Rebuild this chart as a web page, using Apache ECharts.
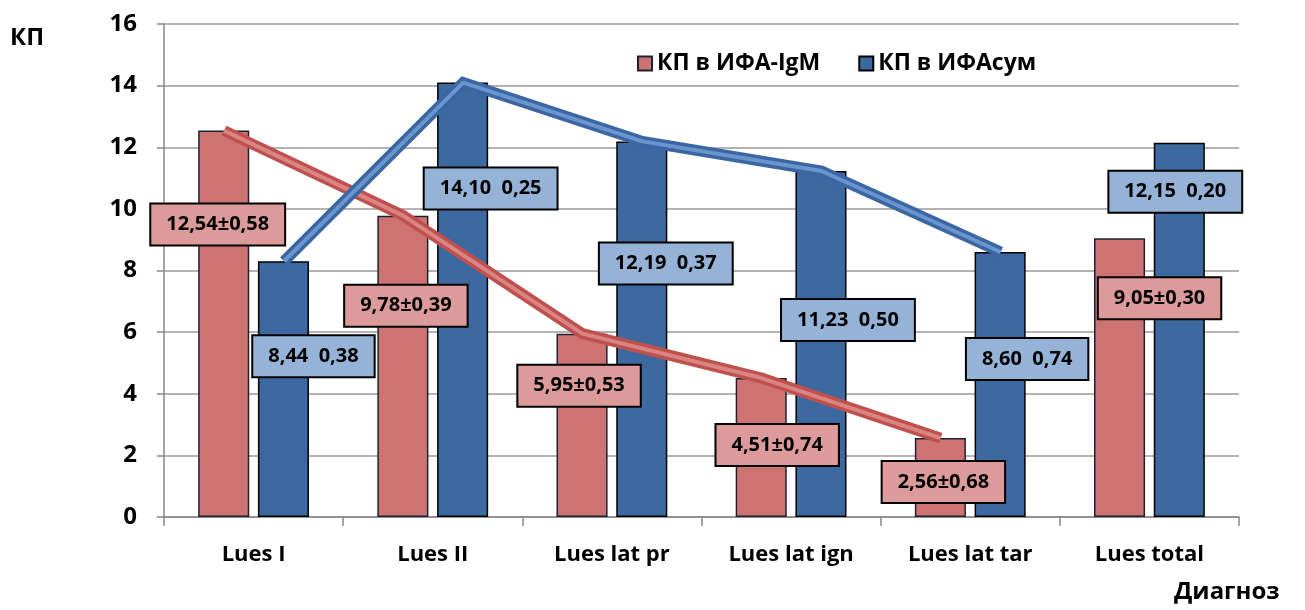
<!DOCTYPE html>
<html>
<head>
<meta charset="utf-8">
<script src="https://cdn.jsdelivr.net/npm/echarts@6.0.0/dist/echarts.min.js"></script>
<style>
html, body { margin: 0; padding: 0; background: #fff; }
#main { width: 1305px; height: 610px; }
</style>
</head>
<body>
<div id="main"></div>
<script>
var categories = ['Lues I', 'Lues II', 'Lues lat pr', 'Lues lat ign', 'Lues lat tar', 'Lues total'];
var igmValues = [12.54, 9.78, 5.95, 4.51, 2.56, 9.05];
var sumValues = [8.3, 14.1, 12.19, 11.23, 8.6, 12.15];
var igmLabels = ['12,54±0,58', '9,78±0,39', '5,95±0,53', '4,51±0,74', '2,56±0,68', '9,05±0,30'];
var sumLabels = ['8,44  0,38', '14,10  0,25', '12,19  0,37', '11,23  0,50', '8,60  0,74', '12,15  0,20'];
var lineCount = 5;	// trend lines only over the first five diagnoses

// hand placed label boxes, shift from bar top (px)
var igmLabelShift = [[-6, 114], [3, 110], [-3, 72], [16, 87], [3, 64], [40, 80]];
var sumLabelShift = [[30, 115], [28, 126], [24, 142], [27, 169], [27, 127], [-4, 69]];

var FONT = '"Open Sans", "Noto Sans", sans-serif';
var igmName = 'КП в ИФА-IgM';
var sumName = 'КП в ИФАсум';
// bar centres inside a category (fraction of band)
var igmPos = 0.335;
var sumPos = 0.67;

var myChart = echarts.init(document.getElementById('main'));

function boxLabel(texts, bg) {
	return {
		show: true,
		position: 'top',
		distance: 0,
		formatter: function (p) { return texts[p.dataIndex]; },
		backgroundColor: bg,
		borderColor: '#000',
		borderWidth: 2,
		padding: [9, 15],
		lineHeight: 22,
		color: '#000',
		fontFamily: FONT,
		fontWeight: 'bold',
		fontSize: 20
	};
}

function linePoints(values, pos) {
	var pts = [];
	for (var i = 0; i < lineCount; ++i)
		pts.push([i + pos, values[i]]);
	return pts;
}

var option = {
	animation: false,
	backgroundColor: '#fff',
	grid: { left: 164, right: 66, top: 24, bottom: 93 },
	legend: {
		data: [igmName, sumName],
		left: 632,
		top: 47,
		icon: 'rect',
		itemWidth: 14,
		itemHeight: 14,
		itemGap: 38,
		textStyle: { color: '#000', fontFamily: FONT, fontWeight: 'bold', fontSize: 23 }
	},
	graphic: [
		{ type: 'text', left: 10, top: 26, style: { text: 'КП', fill: '#000', font: 'bold 24px ' + FONT } },
		{ type: 'text', left: 1174, top: 580, style: { text: 'Диагноз', fill: '#000', font: 'bold 24px ' + FONT } }
	],
	xAxis: [
		{
			type: 'category',
			data: categories,
			axisLine: { lineStyle: { color: '#868686', width: 1.5 } },
			axisTick: { show: true, length: 9, lineStyle: { color: '#868686', width: 1.5 } },
			axisLabel: { color: '#000', fontFamily: FONT, fontWeight: 'bold', fontSize: 22, margin: 27 }
		},
		{ type: 'value', min: 0, max: categories.length, show: false }
	],
	yAxis: {
		type: 'value',
		min: 0,
		max: 16,
		interval: 2,
		axisLine: { show: true, lineStyle: { color: '#868686', width: 1.5 } },
		axisTick: { show: true, length: 7, lineStyle: { color: '#868686', width: 1.5 } },
		splitLine: { lineStyle: { color: '#9a9a9a', width: 1.5 } },
		axisLabel: { color: '#000', fontFamily: FONT, fontWeight: 'bold', fontSize: 24, margin: 27 }
	},
	series: [
		{
			name: igmName,
			type: 'bar',
			z: 2,
			barWidth: '28.5%',
			barGap: '17%',
			itemStyle: { color: '#cd7472', borderColor: '#1c2233', borderWidth: 1.5 },
			label: boxLabel(igmLabels, '#dc9b9a'),
			data: igmValues.map(function (v, i) { return { value: v, label: { offset: igmLabelShift[i] } }; })
		},
		{
			name: sumName,
			type: 'bar',
			z: 2,
			barWidth: '28.5%',
			barGap: '17%',
			itemStyle: { color: '#3d69a1', borderColor: '#000', borderWidth: 1.5 },
			label: boxLabel(sumLabels, '#95b3d7'),
			data: sumValues.map(function (v, i) { return { value: v, label: { offset: sumLabelShift[i] } }; })
		},
		{
			name: 'igmLine', type: 'line', xAxisIndex: 1, z: 3, silent: true, symbol: 'none',
			lineStyle: { color: '#c0504d', width: 11, cap: 'butt', join: 'miter' },
			data: linePoints(igmValues, igmPos)
		},
		{
			name: 'igmLineHi', type: 'line', xAxisIndex: 1, z: 3, silent: true, symbol: 'none',
			lineStyle: { color: '#d98583', width: 4, cap: 'butt' },
			data: linePoints(igmValues, igmPos)
		},
		{
			name: 'sumLine', type: 'line', xAxisIndex: 1, z: 3, silent: true, symbol: 'none',
			lineStyle: { color: '#3a67a3', width: 11, cap: 'butt', join: 'miter' },
			data: linePoints(sumValues, sumPos)
		},
		{
			name: 'sumLineHi', type: 'line', xAxisIndex: 1, z: 3, silent: true, symbol: 'none',
			lineStyle: { color: '#6a95cd', width: 4, cap: 'butt' },
			data: linePoints(sumValues, sumPos)
		}
	]
};

myChart.setOption(option);
</script>
</body>
</html>
